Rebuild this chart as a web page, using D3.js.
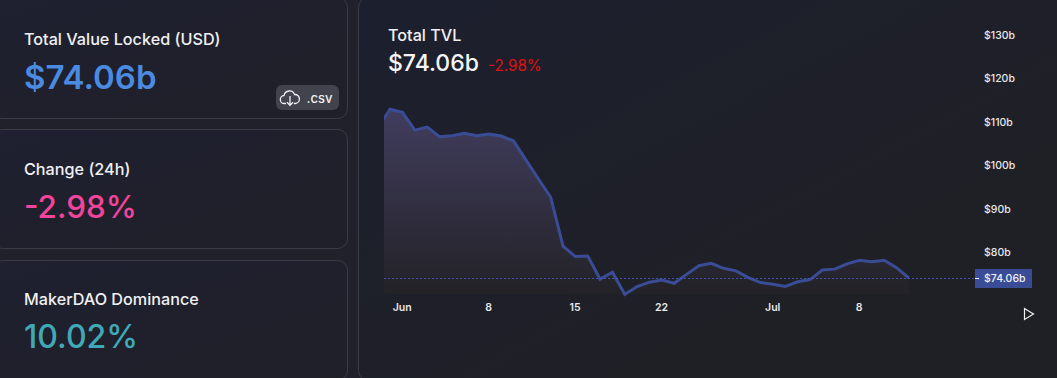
<!DOCTYPE html>
<html><head><meta charset="utf-8">
<script src="https://cdn.jsdelivr.net/npm/d3@7"></script>
<style>
html,body{margin:0;padding:0;background:#20212a;overflow:hidden}
svg{display:block}
text{font-family:Inter,"Noto Sans",sans-serif}
</style></head><body><div id="c"></div>
<script>
const startDate = "2022-05-30";
const tvlValues = [108.69,112.9,112.2,108.1,108.8,106.6,106.8,107.4,106.8,107.2,106.75,105.6,101.2,96.9,92.65,81.4,79.0,79.1,73.8,75.4,70.3,72.1,73.1,73.6,72.85,74.9,76.9,77.45,76.3,75.7,74.15,73.0,72.6,72.1,73.2,73.7,75.9,76.1,77.3,78.15,77.8,78.15,76.45,74.06];
const yTickValues = [80,90,100,110,120,130];
const xTickDates = ["2022-06-01","2022-06-08","2022-06-15","2022-06-22","2022-07-01","2022-07-08"];
const xTickLabels = ["Jun","8","15","22","Jul","8"];
const currentValue = 74.06;
const currentLabel = "$74.06b";
const statTitles = ["Total Value Locked (USD)","Change (24h)","MakerDAO Dominance"];
const statValues = ["$74.06b","-2.98%","10.02%"];
const statColors = ["#4a8ae0","#f1449a","#3fa9b8"];
const W=1057,H=378;
const day=d=>new Date(d+"T00:00:00Z");
const series=tvlValues.map((v,i)=>({date:d3.utcDay.offset(day(startDate),i),value:v}));
const svg=d3.select("#c").append("svg").attr("width",W).attr("height",H);
const defs=svg.append("defs");
const bgG=defs.append("linearGradient").attr("id","bg").attr("x1","0").attr("y1","0").attr("x2","1").attr("y2","1");
bgG.append("stop").attr("offset","0").attr("stop-color","#1c1f2e");
bgG.append("stop").attr("offset","0.7").attr("stop-color","#1f2026");
const cG=defs.append("linearGradient").attr("id","cbg").attr("x1","0").attr("y1","0").attr("x2","1").attr("y2","1");
cG.append("stop").attr("offset","0").attr("stop-color","#1f2030");
cG.append("stop").attr("offset","1").attr("stop-color","#1f2028");
const aG=defs.append("linearGradient").attr("id","area").attr("gradientUnits","userSpaceOnUse").attr("x1",0).attr("x2",0).attr("y1",108).attr("y2",294);
aG.append("stop").attr("offset","0").attr("stop-color","#413d5e");
aG.append("stop").attr("offset","1").attr("stop-color","#232227");
defs.append("clipPath").attr("id","plot").append("rect").attr("x",384).attr("y",0).attr("width",600).attr("height",300);

// cards
const cardBoxes=[[-8,-3,355,122],[-8,129,355,120],[-8,260,355,121]];
cardBoxes.forEach(b=>{
  svg.append("rect").attr("x",b[0]+.5).attr("y",b[1]+.5).attr("width",b[2]).attr("height",b[3]-1).attr("rx",10)
    .attr("fill","url(#cbg)").attr("stroke","#3b3c47");
});
const titleY=[45,175,305], valueY=[89,218,348];
const valueSize=[33,31.4,32], valueWeight=[600,500,500];
statTitles.forEach((t,i)=>{
  svg.append("text").attr("x",24).attr("y",titleY[i]).attr("fill","#f0f0f2").attr("font-size",16.2).attr("font-weight",500).text(t);
  svg.append("text").attr("x",24).attr("y",valueY[i]).attr("fill",statColors[i]).attr("font-size",valueSize[i]).attr("font-weight",valueWeight[i]).text(statValues[i]);
});
// csv button
const btn=svg.append("g");
btn.append("rect").attr("x",276).attr("y",85).attr("width",63).attr("height",25).attr("rx",6).attr("fill","#41434d");
btn.append("path").attr("d","M286 103.5h-1.5a4 4 0 0 1-.4-8a5.4 5.4 0 0 1 10.4-1a4.5 4.5 0 0 1 .8 9h-1.5").attr("fill","none").attr("stroke","#f0f0f2").attr("stroke-width",1.3);
btn.append("path").attr("d","M290 96v9M287 102.3l3 3l3-3").attr("fill","none").attr("stroke","#f0f0f2").attr("stroke-width",1.3);
btn.append("text").attr("x",306.5).attr("y",103).attr("fill","#f0f0f2").attr("font-size",13).attr("font-weight",500).text(".csv");

// main card
svg.append("rect").attr("x",358.5).attr("y",-2.5).attr("width",720).attr("height",383).attr("rx",10).attr("fill","url(#bg)").attr("stroke","#3b3c47");
svg.append("text").attr("x",388).attr("y",41).attr("fill","#f0f0f2").attr("font-size",16.2).attr("font-weight",500).text("Total TVL");
svg.append("text").attr("x",388).attr("y",71).attr("fill","#f5f5f7").attr("font-size",23).attr("font-weight",500).text("$74.06b");
svg.append("text").attr("x",488).attr("y",71).attr("fill","#e0100f").attr("font-size",15.2).text("-2.98%");

// scales
const x=d3.scaleUtc().domain([day("2022-06-01"),day("2022-07-01")]).range([402.5,773]);
const y=d3.scaleLinear().domain([130,80]).range([35,252.2]);
const plot=svg.append("g").attr("clip-path","url(#plot)");
plot.append("path").datum(series).attr("fill","url(#area)")
  .attr("d",d3.area().x(d=>x(d.date)).y0(294).y1(d=>y(d.value)));
const lineY=Math.floor(y(currentValue))+.5;
svg.append("line").attr("x1",384).attr("x2",975).attr("y1",lineY).attr("y2",lineY)
  .attr("stroke","#4254ad").attr("stroke-width",1).attr("stroke-dasharray","2 2");
plot.append("path").datum(series).attr("fill","none").attr("stroke","#3a4c96").attr("stroke-width",3).attr("stroke-linejoin","miter")
  .attr("d",d3.line().x(d=>x(d.date)).y(d=>y(d.value)));

// axes
const yAxis=d3.axisRight(y).tickValues(yTickValues).tickSize(0).tickPadding(0).tickFormat(v=>`$${v}b`);
const yG=svg.append("g").attr("transform","translate(984,0)").call(yAxis);
yG.select(".domain").remove();
yG.selectAll("text").attr("fill","#e8e8ea").attr("font-size",10.5).attr("font-weight",500).attr("font-family","Roboto,Inter,sans-serif");
const xAxis=d3.axisBottom(x).tickValues(xTickDates.map(day)).tickSize(0).tickPadding(0).tickFormat((d,i)=>xTickLabels[i]);
const xG=svg.append("g").attr("transform","translate(-0.8,304)").call(xAxis);
xG.select(".domain").remove();
xG.selectAll("text").attr("fill","#e8e8ea").attr("font-size",10.5).attr("font-weight",600).attr("font-family","Roboto,Inter,sans-serif");

// price label
svg.append("rect").attr("x",975).attr("y",269).attr("width",57).attr("height",19).attr("fill","#3a4c96");
svg.append("line").attr("x1",975).attr("x2",979).attr("y1",278.5).attr("y2",278.5).attr("stroke","#f0f0f2");
svg.append("text").attr("x",984).attr("y",282).attr("fill","#f2f2f5").attr("font-size",10.5).attr("font-weight",500).attr("font-family","Roboto,Inter,sans-serif").text(currentLabel);
// play
svg.append("path").attr("d","M1024.5 308.5L1033.5 314L1024.5 319.5Z").attr("fill","none").attr("stroke","#f0f0f2").attr("stroke-width",1.2);
</script></body></html>
